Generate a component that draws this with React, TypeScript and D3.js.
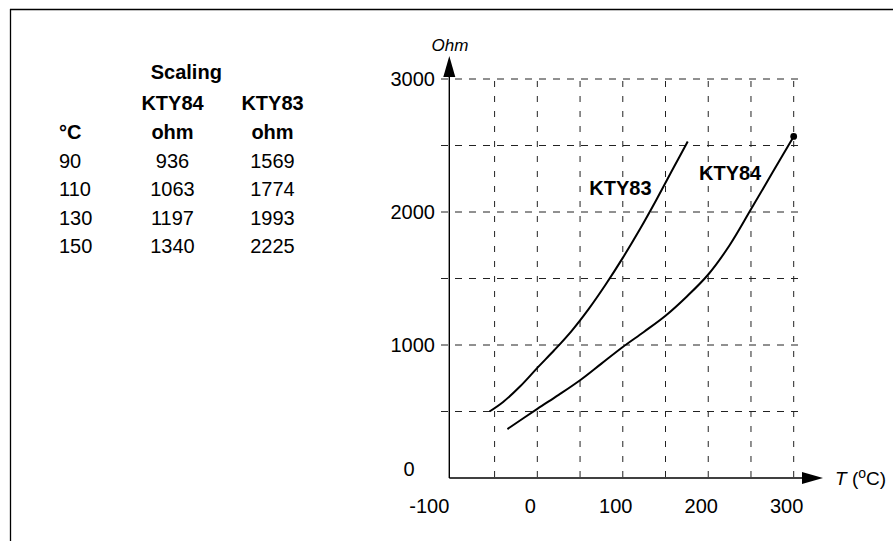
import React from "react";
import * as d3 from "d3";

// ---- data ----
const kty83T = [-56, -40, -20, 0, 20, 40, 60, 80, 100, 120, 140, 160, 176];
const kty83R = [500, 572, 690, 828, 962, 1105, 1270, 1455, 1655, 1870, 2100, 2340, 2530];
const kty84T = [-35, 0, 25, 50, 75, 100, 125, 150, 175, 200, 225, 250, 275, 300];
const kty84R = [368, 520, 625, 735, 860, 985, 1100, 1220, 1365, 1530, 1750, 2020, 2295, 2568];

const xTickLabels = [-100, 0, 100, 200, 300];
const yTickLabels = [0, 1000, 2000, 3000];
const xGridValues = [-50, 0, 50, 100, 150, 200, 250, 300];
const yGridValues = [500, 1000, 1500, 2000, 2500, 3000];

const tableTitle = "Scaling";
const tableHeaders = ["°C", "KTY84", "KTY83"];
const tableUnits = ["", "ohm", "ohm"];
const tableTemps = [90, 110, 130, 150];
const tableKTY84 = [936, 1063, 1197, 1340];
const tableKTY83 = [1569, 1774, 1993, 2225];

const FONT = "'Liberation Sans', Arial, Helvetica, sans-serif";

export default function App() {
  const W = 893;
  const H = 541;
  const x = d3.scaleLinear().domain([-103, 300]).range([449.3, 793.7]);
  const y = d3.scaleLinear().domain([0, 3000]).range([478, 79]);
  const axisX = x(-103);
  const axisY = y(0);
  const gridRight = 802;
  const gridLeft = 441;

  const line = d3
    .line<[number, number]>()
    .x((d) => x(d[0]))
    .y((d) => y(d[1]))
    .curve(d3.curveCatmullRom.alpha(0.5));

  const kty83 = kty83T.map((t, i) => [t, kty83R[i]] as [number, number]);
  const kty84 = kty84T.map((t, i) => [t, kty84R[i]] as [number, number]);
  const last84 = kty84[kty84.length - 1];

  const col1 = 59;
  const col2 = 172.5;
  const col3 = 272.5;
  const rowY = [167.5, 196, 224.5, 253];

  const xLabelPos = (v: number) => {
    const lx = x(v) - 7;
    return lx - 20 < axisX ? axisX - 20 : lx;
  };

  return (
    <svg
      width={W}
      height={H}
      style={{ position: "absolute", left: 0, top: 0, background: "#fff" }}
      fontFamily={FONT}
    >
      <rect x={0} y={0} width={W} height={H} fill="#fff" />
      {/* frame */}
      <line x1={10} y1={9.5} x2={W} y2={9.5} stroke="#000" strokeWidth={1.3} />
      <line x1={10.5} y1={9} x2={10.5} y2={H} stroke="#000" strokeWidth={1.3} />

      {/* table */}
      <g fontSize={20} fill="#000">
        <text x={186.3} y={79} textAnchor="middle" fontWeight="bold">
          {tableTitle}
        </text>
        <text x={col2} y={109.5} textAnchor="middle" fontWeight="bold">
          {tableHeaders[1]}
        </text>
        <text x={col3} y={109.5} textAnchor="middle" fontWeight="bold">
          {tableHeaders[2]}
        </text>
        <text x={col1} y={138.5} fontWeight="bold">
          {tableHeaders[0]}
        </text>
        <text x={col2} y={138.5} textAnchor="middle" fontWeight="bold">
          {tableUnits[1]}
        </text>
        <text x={col3} y={138.5} textAnchor="middle" fontWeight="bold">
          {tableUnits[2]}
        </text>
        {tableTemps.map((t, i) => (
          <g key={t}>
            <text x={col1} y={rowY[i]}>{t}</text>
            <text x={col2} y={rowY[i]} textAnchor="middle">{tableKTY84[i]}</text>
            <text x={col3} y={rowY[i]} textAnchor="middle">{tableKTY83[i]}</text>
          </g>
        ))}
      </g>

      {/* grid */}
      <g stroke="#222" strokeWidth={1} fill="none">
        {yGridValues.map((v) => (
          <line
            key={"h" + v}
            x1={gridLeft}
            x2={gridRight}
            y1={y(v)}
            y2={y(v)}
            strokeDasharray="7,7"
          />
        ))}
        {xGridValues.map((v) => (
          <line
            key={"v" + v}
            x1={x(v)}
            x2={x(v)}
            y1={y(3000) + 2}
            y2={axisY + 8}
            strokeDasharray="6,9"
          />
        ))}
      </g>

      {/* axes */}
      <line x1={axisX} y1={axisY} x2={axisX} y2={77} stroke="#000" strokeWidth={1.4} />
      <path d={`M${axisX - 6},77 L${axisX + 6},77 L${axisX},56 Z`} fill="#000" />
      <line x1={axisX} y1={axisY} x2={gridRight} y2={axisY} stroke="#000" strokeWidth={1.4} />
      <path
        d={`M${gridRight},${axisY - 6} L${gridRight},${axisY + 6} L${823},${axisY} Z`}
        fill="#000"
      />

      {/* tick labels */}
      <g fontSize={20} fill="#000">
        {yTickLabels.map((v) =>
          v === 0 ? (
            <text key={v} x={409} y={axisY - 2} textAnchor="middle">
              {v}
            </text>
          ) : (
            <text key={v} x={435} y={y(v) + 7} textAnchor="end">
              {v}
            </text>
          )
        )}
        {xTickLabels.map((v) => (
          <text key={v} x={xLabelPos(v)} y={513} textAnchor="middle">
            {v}
          </text>
        ))}
      </g>

      {/* axis titles */}
      <text x={450} y={51} fontSize={17} fontStyle="italic" textAnchor="middle">
        Ohm
      </text>
      <text x={835} y={axisY + 7} fontSize={19}>
        <tspan fontStyle="italic">T</tspan>
        <tspan> (</tspan>
        <tspan fontSize={14} dy={-7}>o</tspan>
        <tspan dy={7}>C)</tspan>
      </text>

      {/* curves */}
      <path d={line(kty83) || ""} fill="none" stroke="#000" strokeWidth={2} />
      <path d={line(kty84) || ""} fill="none" stroke="#000" strokeWidth={2} />
      <circle cx={x(last84[0])} cy={y(last84[1])} r={3.4} fill="#000" />

      {/* curve labels */}
      <text x={589.3} y={195} fontSize={20} fontWeight="bold">KTY83</text>
      <text x={699} y={180} fontSize={20} fontWeight="bold">KTY84</text>
    </svg>
  );
}
